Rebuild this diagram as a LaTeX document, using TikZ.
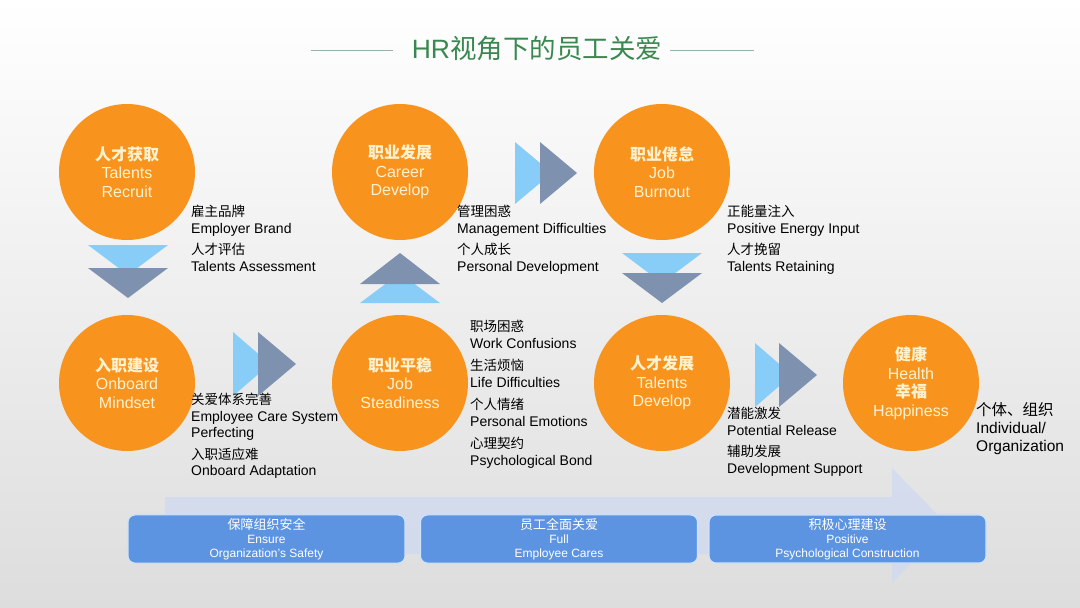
\documentclass[tikz,border=0pt]{standalone}
\usepackage{fontspec}
\setmainfont{Liberation Sans}
\newfontfamily\cjk{Noto Sans CJK SC}
\usepackage{xcolor}
\usetikzlibrary{calc}

\definecolor{hrorange}{RGB}{248,148,29}
\definecolor{hrcream}{RGB}{255,242,208}
\definecolor{hrgreen}{RGB}{58,136,80}
\definecolor{hrline}{RGB}{150,178,165}
\definecolor{lblue}{RGB}{136,205,248}
\definecolor{slate}{RGB}{126,146,176}
\definecolor{boxblue}{RGB}{92,148,226}
\definecolor{boxedge}{RGB}{205,228,250}
\definecolor{flowblue}{RGB}{200,214,246}
\definecolor{bgmid}{RGB}{244,244,244}
\definecolor{bgbot}{RGB}{221,221,221}

\newcommand{\zh}[1]{{\cjk\fontsize{13.5}{16.5}\selectfont #1}}
\newcommand{\zhb}[1]{{\cjk\bfseries #1}}

\begin{document}
\begin{tikzpicture}[x=1pt, y=-1pt,
  stage/.style={circle, fill=hrorange, minimum size=136pt, inner sep=0pt,
                align=center, text=hrcream, font=\fontsize{16}{18.5}\selectfont},
  note/.style={anchor=north west, align=left, inner sep=0pt,
               font=\fontsize{14}{16.5}\selectfont},
  goal/.style={rectangle, rounded corners=7pt, draw=boxedge, line width=1.2pt,
               fill=boxblue, text=white, align=center, minimum width=277pt,
               minimum height=48pt, font=\fontsize{12}{14}\selectfont},
  tri1/.style={fill=lblue},
  tri2/.style={fill=slate}
]
\useasboundingbox (0,0) rectangle (1080,608);
%% background
\shade[top color=white, middle color=bgmid, bottom color=bgbot] (0,0) rectangle (1080,608);

%% title
\node[text=hrgreen, inner sep=0pt, font=\fontsize{26.5}{30}\selectfont] (title) at (537,48)
    {HR{\cjk 视角下的员工关爱}};
\draw[hrline, line width=1pt] ($(title.west)+(-101,2)$) -- ++(82,0);
\draw[hrline, line width=1pt] ($(title.east)+(8,2)$) -- ++(84,0);

%% big flow arrow behind the goals
\fill[flowblue, opacity=.55] (165,497) -- (892,497) -- (892,468) -- (948,525.5)
    -- (892,583) -- (892,554) -- (165,554) -- cycle;

%% goals
\node[goal] (g_safe) at (266.5,539) {{\cjk\fontsize{13}{14}\selectfont 保障组织安全}\\Ensure\\Organization's Safety};
\node[goal] (g_full) at (559,539)   {{\cjk\fontsize{13}{14}\selectfont 员工全面关爱}\\Full\\Employee Cares};
\node[goal] (g_pos)  at (847.5,539) {{\cjk\fontsize{13}{14}\selectfont 积极心理建设}\\Positive\\Psychological Construction};

%% stages
\node[stage] (recruit) at (127,172) {\zhb{人才获取}\\Talents\\Recruit};
\node[stage] (career)  at (400,172) {\zhb{职业发展}\\Career\\Develop};
\node[stage] (burnout) at (662,172) {\zhb{职业倦怠}\\Job\\Burnout};
\node[stage] (onboard) at (127,383) {\zhb{入职建设}\\Onboard\\Mindset};
\node[stage] (steady)  at (400,383) {\zhb{职业平稳}\\Job\\Steadiness};
\node[stage] (develop) at (662,383) {\zhb{人才发展}\\Talents\\Develop};
\node[stage] (health)  at (911,383) {\zhb{健康}\\Health\\\zhb{幸福}\\Happiness};

%% double arrows between stages
% recruit -> onboard
\fill[tri1] (88,245) -- (168,245) -- (128,275) -- cycle;
\fill[tri2] (88,268) -- (168,268) -- (128,298) -- cycle;
% onboard -> steady
\fill[tri1] (233,332) -- (270,364) -- (233,396) -- cycle;
\fill[tri2] (258,332) -- (296,364) -- (258,396) -- cycle;
% steady -> career
\fill[tri1] (360,303) -- (440,303) -- (400,273) -- cycle;
\fill[tri2] (360,284) -- (440,284) -- (400,253) -- cycle;
% career -> burnout
\fill[tri1] (515,142) -- (552,173) -- (515,204) -- cycle;
\fill[tri2] (540,142) -- (577,173) -- (540,204) -- cycle;
% burnout -> develop
\fill[tri1] (622,253) -- (702,253) -- (662,283) -- cycle;
\fill[tri2] (622,273) -- (702,273) -- (662,303) -- cycle;
% develop -> health
\fill[tri1] (755,343) -- (792,375) -- (755,407) -- cycle;
\fill[tri2] (779,343) -- (817,375) -- (779,407) -- cycle;

%% notes
\node[note] (n_recruit) at (191,205)
    {\zh{雇主品牌}\\Employer Brand\\[5pt]\zh{人才评估}\\Talents Assessment};
\node[note] (n_career) at (457,205)
    {\zh{管理困惑}\\Management Difficulties\\[5pt]\zh{个人成长}\\Personal Development};
\node[note] (n_burnout) at (727,205)
    {\zh{正能量注入}\\Positive Energy Input\\[5pt]\zh{人才挽留}\\Talents Retaining};
\node[note] (n_onboard) at (191,393)
    {\zh{关爱体系完善}\\Employee Care System\\Perfecting\\[5pt]\zh{入职适应难}\\Onboard Adaptation};
\node[note] (n_steady) at (470,320)
    {\zh{职场困惑}\\Work Confusions\\[6pt]\zh{生活烦恼}\\Life Difficulties\\[6pt]%
     \zh{个人情绪}\\Personal Emotions\\[6pt]\zh{心理契约}\\Psychological Bond};
\node[note] (n_develop) at (727,407)
    {\zh{潜能激发}\\Potential Release\\[5pt]\zh{辅助发展}\\Development Support};
\node[note, font=\fontsize{15.5}{18}\selectfont] (n_health) at (976,402)
    {{\cjk 个体、组织}\\Individual/\\Organization};
\end{tikzpicture}
\end{document}
